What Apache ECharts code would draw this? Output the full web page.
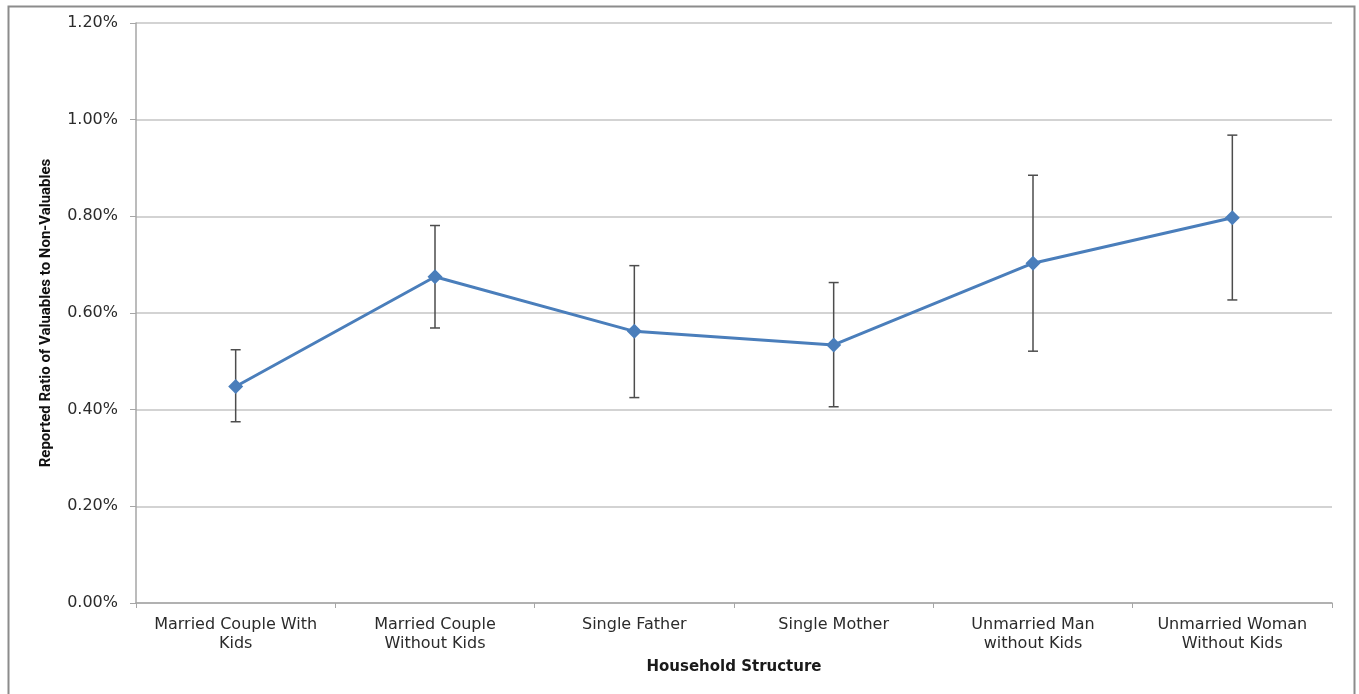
<!DOCTYPE html>
<html>
<head>
<meta charset="utf-8">
<script src="https://cdn.jsdelivr.net/npm/echarts@6/dist/echarts.min.js"></script>
<style>
  html, body { margin: 0; padding: 0; background: #ffffff; }
  #chart { width: 1359px; height: 694px; }
</style>
</head>
<body>
<div id="chart"></div>
<script>
// Household structure categories (x axis)
const categories = [
  'Married Couple With\nKids',
  'Married Couple\nWithout Kids',
  'Single Father',
  'Single Mother',
  'Unmarried Man\nwithout Kids',
  'Unmarried Woman\nWithout Kids'
];
// Reported ratio of valuables to non-valuables, in percent
const ratioValues = [0.448, 0.675, 0.562, 0.534, 0.703, 0.797];
// Lower and upper ends of the error bars, in percent
const errorLow  = [0.375, 0.569, 0.425, 0.406, 0.521, 0.627];
const errorHigh = [0.524, 0.781, 0.698, 0.663, 0.885, 0.968];
// Value axis ticks, in percent
const yMin = 0, yMax = 1.2, yStep = 0.2;

const labelFont = '"DejaVu Sans", "Open Sans", sans-serif';

const errorData = categories.map((c, i) => [i, errorLow[i], errorHigh[i]]);

const chart = echarts.init(document.getElementById('chart'), null, { renderer: 'canvas' });

chart.setOption({
  backgroundColor: '#ffffff',
  animation: false,
  graphic: [{
    type: 'rect',
    left: 6, top: 4,
    shape: { width: 1346, height: 700 },
    style: { fill: 'none', stroke: '#8c8c8c', lineWidth: 2 },
    z: -1
  }],
  grid: { left: 136, right: 27, top: 23, bottom: 91, containLabel: false },
  xAxis: {
    type: 'category',
    data: categories,
    boundaryGap: true,
    name: 'Household Structure',
    nameLocation: 'middle',
    nameGap: 57,
    nameTextStyle: { fontFamily: labelFont, fontWeight: 'bold', fontSize: 15, color: '#1a1a1a' },
    axisLine: { lineStyle: { color: '#a6a6a6', width: 1.5 } },
    axisTick: { show: true, length: 5, alignWithLabel: false, lineStyle: { color: '#a6a6a6' } },
    axisLabel: { fontFamily: labelFont, fontSize: 16, color: '#2b2b2b', lineHeight: 19, margin: 12, interval: 0 },
    splitLine: { show: false }
  },
  yAxis: {
    type: 'value',
    min: yMin, max: yMax, interval: yStep,
    name: 'Reported Ratio of Valuables to Non-Valuables',
    nameLocation: 'middle',
    nameRotate: 90,
    nameGap: 82,
    nameTextStyle: { fontFamily: '"Liberation Sans Narrow", "Roboto", sans-serif', fontWeight: 'bold', fontSize: 15, color: '#111111' },
    axisLine: { show: true, lineStyle: { color: '#a6a6a6', width: 1.5 } },
    axisTick: { show: true, length: 6, lineStyle: { color: '#a6a6a6' } },
    axisLabel: {
      fontFamily: labelFont, fontSize: 16, color: '#2b2b2b', margin: 18,
      formatter: v => v.toFixed(2) + '%'
    },
    splitLine: { show: true, lineStyle: { color: '#c4c4c4', width: 1.5 } }
  },
  series: [
    {
      type: 'custom',
      name: 'error',
      data: errorData,
      z: 2,
      renderItem: function (params, api) {
        const x = api.value(0);
        const lo = api.coord([x, api.value(1)]);
        const hi = api.coord([x, api.value(2)]);
        const cap = 5;
        const style = { stroke: '#4d4d4d', lineWidth: 1.5, fill: 'none' };
        return {
          type: 'group',
          children: [
            { type: 'line', shape: { x1: hi[0], y1: hi[1], x2: lo[0], y2: lo[1] }, style: style },
            { type: 'line', shape: { x1: hi[0] - cap, y1: hi[1], x2: hi[0] + cap, y2: hi[1] }, style: style },
            { type: 'line', shape: { x1: lo[0] - cap, y1: lo[1], x2: lo[0] + cap, y2: lo[1] }, style: style }
          ]
        };
      }
    },
    {
      type: 'line',
      name: 'ratio',
      data: ratioValues,
      z: 3,
      symbol: 'diamond',
      symbolSize: 15,
      lineStyle: { color: '#4a7ebb', width: 3 },
      itemStyle: { color: '#4a7ebb' }
    }
  ]
});
</script>
</body>
</html>
